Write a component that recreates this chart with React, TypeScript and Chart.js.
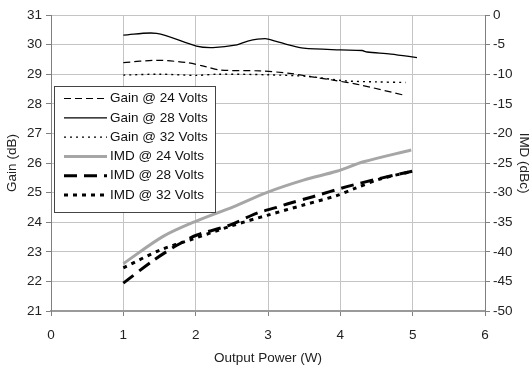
import React, { useEffect, useRef } from "react";
import { Chart, registerables } from "chart.js";

Chart.register(...registerables);

const gain24X = [1.0, 1.46, 1.88, 2.15, 2.34, 2.89, 3.3, 3.58, 3.9, 4.27, 4.9];
const gain24Y = [29.39, 29.47, 29.39, 29.25, 29.14, 29.11, 29.03, 28.92, 28.8, 28.64, 28.28];

const gain28X = [1.0, 1.46, 2.01, 2.24, 2.57, 2.72, 2.96, 3.1, 3.3, 3.49, 4.0, 4.3, 4.37, 4.7, 5.06];
const gain28Y = [30.32, 30.38, 29.95, 29.9, 29.99, 30.12, 30.2, 30.12, 29.98, 29.88, 29.82, 29.8, 29.75, 29.68, 29.56];

const gain32X = [1.0, 1.5, 2.0, 2.3, 3.0, 3.58, 4.04, 4.5, 4.9];
const gain32Y = [28.97, 29.0, 28.96, 29.0, 28.98, 28.92, 28.78, 28.74, 28.72];

const imd24X = [1.0, 1.55, 2.01, 2.52, 2.98, 3.49, 3.95, 4.32, 4.98];
const imd24Y = [-42.0, -37.4, -34.8, -32.4, -30.0, -27.9, -26.4, -24.8, -22.8];

const imd28X = [1.0, 1.41, 1.74, 2.01, 2.47, 2.84, 3.12, 3.3, 3.62, 4.09, 4.55, 5.03];
const imd28Y = [-45.3, -41.5, -38.9, -37.2, -35.5, -33.5, -32.5, -31.8, -30.7, -29.0, -27.6, -26.3];

const imd32X = [1.0, 1.51, 1.92, 2.5, 3.0, 3.49, 3.95, 4.2, 4.55, 5.0];
const imd32Y = [-42.7, -39.7, -38.0, -35.6, -33.8, -32.1, -30.5, -29.3, -27.7, -26.4];

const seriesLabels = [
  "Gain @ 24 Volts",
  "Gain @ 28 Volts",
  "Gain @ 32 Volts",
  "IMD @ 24 Volts",
  "IMD @ 28 Volts",
  "IMD @ 32 Volts",
];

const xTitle = "Output Power (W)";
const yTitle = "Gain (dB)";
const y2Title = "IMD (dBc)";

const FONT = "'Liberation Sans', Arial, sans-serif";

const pts = (xs: number[], ys: number[]) => xs.map((x, i) => ({ x, y: ys[i] }));

const legendPlugin = {
  id: "boxLegend",
  afterDraw(chart: any) {
    const ctx = chart.ctx;
    const left = 54, top = 86, w = 161, h = 126;
    ctx.save();
    ctx.fillStyle = "#ffffff";
    ctx.fillRect(left, top, w, h);
    ctx.strokeStyle = "#444444";
    ctx.lineWidth = 1;
    ctx.strokeRect(left + 0.5, top + 0.5, w, h);
    ctx.font = `13.5px ${FONT}`;
    ctx.textBaseline = "middle";
    ctx.textAlign = "left";
    chart.data.datasets.forEach((ds: any, i: number) => {
      const y = top + 12.5 + i * 19.3;
      ctx.beginPath();
      ctx.strokeStyle = ds.borderColor;
      ctx.lineWidth = ds.borderWidth;
      ctx.setLineDash(ds.borderDash || []);
      ctx.moveTo(64, y);
      ctx.lineTo(107, y);
      ctx.stroke();
      ctx.setLineDash([]);
      ctx.fillStyle = "#111111";
      ctx.fillText(ds.label, 110, y);
    });
    ctx.restore();
  },
};

export default function App() {
  const ref = useRef<HTMLCanvasElement | null>(null);
  useEffect(() => {
    document.body.style.margin = "0";
    const canvas = ref.current!;
    const tickFont = { family: FONT, size: 13.5 };
    const titleFont = { family: FONT, size: 13.5 };
    const chart = new Chart(canvas, {
      type: "line",
      data: {
        datasets: [
          { label: seriesLabels[0], data: pts(gain24X, gain24Y), yAxisID: "y", borderColor: "#000000", borderWidth: 1.2, borderDash: [7, 4] },
          { label: seriesLabels[1], data: pts(gain28X, gain28Y), yAxisID: "y", borderColor: "#000000", borderWidth: 1.3 },
          { label: seriesLabels[2], data: pts(gain32X, gain32Y), yAxisID: "y", borderColor: "#000000", borderWidth: 1.4, borderDash: [2, 4] },
          { label: seriesLabels[3], data: pts(imd24X, imd24Y), yAxisID: "y2", borderColor: "#a6a6a6", borderWidth: 3 },
          { label: seriesLabels[4], data: pts(imd28X, imd28Y), yAxisID: "y2", borderColor: "#000000", borderWidth: 3, borderDash: [13, 7] },
          { label: seriesLabels[5], data: pts(imd32X, imd32Y), yAxisID: "y2", borderColor: "#000000", borderWidth: 3, borderDash: [4, 5] },
        ] as any,
      },
      options: {
        responsive: false,
        animation: false,
        layout: { padding: { top: 15, left: 0, right: 0, bottom: 0 } },
        elements: { point: { radius: 0 }, line: { tension: 0.3 } },
        plugins: { legend: { display: false }, tooltip: { enabled: false } },
        scales: {
          x: {
            type: "linear",
            min: 0,
            max: 6,
            ticks: { stepSize: 1, color: "#222", font: tickFont, padding: 11 },
            grid: { color: "#c4c4c4", tickColor: "#808080", tickLength: 5 },
            border: { color: "#9a9a9a", width: 2 },
            title: { display: true, text: xTitle, color: "#222", font: titleFont, padding: { top: 4, bottom: 13 } },
            afterFit: (s: any) => { s.height = 68; },
          },
          y: {
            position: "left",
            min: 21,
            max: 31,
            ticks: { stepSize: 1, color: "#222", font: tickFont, padding: 4 },
            grid: { color: "#c4c4c4", tickColor: "#808080", tickLength: 5 },
            border: { color: "#808080", width: 1 },
            title: { display: true, text: yTitle, color: "#222", font: titleFont, padding: { top: 4, bottom: 0 } },
            afterFit: (s: any) => { s.width = 51; },
          },
          y2: {
            position: "right",
            min: -50,
            max: 0,
            ticks: { stepSize: 5, color: "#222", font: tickFont, padding: 3 },
            grid: { drawOnChartArea: false, tickColor: "#808080", tickLength: 5 },
            border: { color: "#808080", width: 1 },
            title: { display: true, text: y2Title, color: "#222", font: titleFont, padding: { top: 0, bottom: 0 } },
            afterFit: (s: any) => { s.width = 47; },
          },
        },
      } as any,
      plugins: [legendPlugin],
    });
    return () => chart.destroy();
  }, []);
  return (
    <div style={{ width: 532, height: 379, background: "#fff" }}>
      <canvas ref={ref} width={532} height={379} />
    </div>
  );
}
